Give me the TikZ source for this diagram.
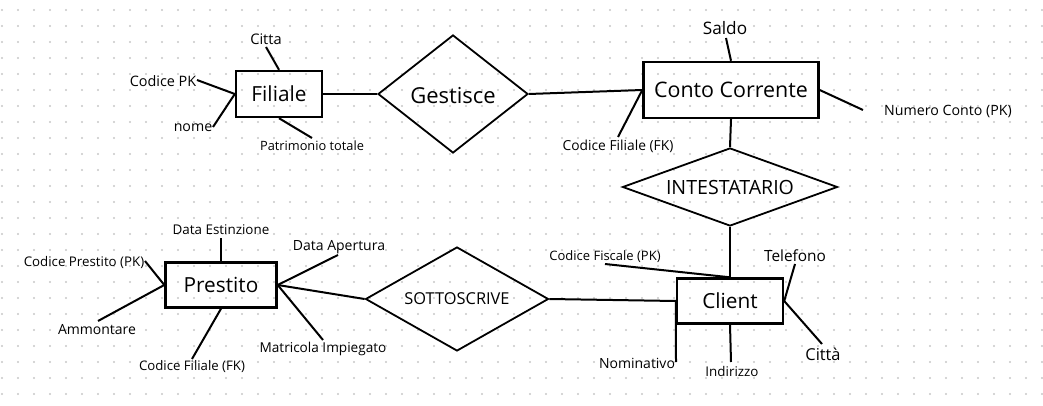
\documentclass[tikz,border=0pt]{standalone}
\usepackage{fontspec}
\setmainfont{Open Sans}
\usetikzlibrary{shapes.geometric}
\tikzset{
  entity/.style={draw, line width=1.2pt, rectangle, inner sep=0pt, font=\fontsize{10.4}{12}\selectfont},
  relation/.style={draw, line width=0.9pt, diamond, inner sep=0pt},
  attr/.style={inner sep=0pt, font=\fontsize{7}{9}\selectfont},
  link/.style={line width=1pt}
}

\begin{document}
\begin{tikzpicture}[x=0.5pt, y=-0.5pt]
\useasboundingbox (0,0) rectangle (1043,406);
%% dotted background
\foreach \i in {0,...,65}
  \foreach \j in {0,...,24}
    \fill[black!22] (2+16*\i, 10+16*\j) circle (0.55pt);

%% Filiale
  \node[entity, minimum width=43pt, minimum height=23pt] (filiale) at (279,94) {Filiale};
  \node[attr, font=\fontsize{7.3}{9}\selectfont] (citta) at (266,39) {Citta};
  \node[attr, font=\fontsize{7.2}{9}\selectfont] (codpk) at (163,81) {Codice PK};
  \node[attr, font=\fontsize{7.1}{9}\selectfont] (nome) at (193,128) {nome};
  \node[attr, font=\fontsize{6.4}{8}\selectfont] (patr) at (312,146) {Patrimonio totale};
  \coordinate (citta-e) at (266,47);
  \coordinate (codpk-e) at (197,80);
  \coordinate (nome-e) at (213,127);
  \coordinate (patr-e) at (312,138);
  \draw[link] (filiale.north) -- (citta-e);
  \draw[link] (filiale.west) -- (codpk-e);
  \draw[link] (filiale.west) -- (nome-e);
  \draw[link] (filiale.south) -- (patr-e);

%% Gestisce
  \node[relation, minimum width=75pt, minimum height=59pt] (gestisce) at (453,94) {};
  \node[font=\fontsize{11}{13}\selectfont] at (453,96) {Gestisce};
  \draw[link] (filiale.east) -- (gestisce.west);

%% Conto Corrente
  \node[entity, minimum width=87.5pt, minimum height=28pt, font=\fontsize{10.7}{13}\selectfont] (conto) at (731,90) {Conto Corrente};
  \node[attr, font=\fontsize{8.6}{10}\selectfont] (saldo) at (725,28) {Saldo};
  \node[attr, font=\fontsize{7.1}{9}\selectfont] (numconto) at (948,111) {Numero Conto (PK)};
  \node[attr, font=\fontsize{6.9}{8}\selectfont] (codfil) at (618,146) {Codice Filiale (FK)};
  \coordinate (saldo-e) at (726,38);
  \coordinate (numconto-e) at (863,110);
  \coordinate (codfil-e) at (618,137);
  \draw[link] (conto.north) -- (saldo-e);
  \draw[link] (conto.east) -- (numconto-e);
  \draw[link] (conto.west) -- (codfil-e);
  \draw[link] (gestisce.east) -- (conto.west);

%% INTESTATARIO
  \node[relation, minimum width=107.5pt, minimum height=39pt] (intest) at (730,187) {};
  \node[font=\fontsize{9.8}{11}\selectfont] at (730,187) {INTESTATARIO};
  \draw[link] (conto.south) -- (intest.north);

%% Client
  \node[entity, minimum width=53pt, minimum height=22.5pt] (client) at (730,301) {Client};
  \node[attr, font=\fontsize{6.5}{8}\selectfont] (codfisc) at (605,257) {Codice Fiscale (PK)};
  \node[attr, font=\fontsize{7.7}{9}\selectfont] (tel) at (795,256) {Telefono};
  \node[attr, font=\fontsize{8.2}{10}\selectfont] (cittac) at (823,354) {Città};
  \node[attr, font=\fontsize{6.7}{8}\selectfont] (indir) at (732,371) {Indirizzo};
  \node[attr] (nomin) at (637,363) {Nominativo};
  \coordinate (codfisc-e) at (605,264);
  \coordinate (tel-e) at (795,264);
  \coordinate (cittac-e) at (822,344);
  \coordinate (indir-e) at (731,362);
  \coordinate (nomin-e) at (676,362);
  \draw[link] (intest.south) -- (client.north);
  \draw[link] (client.north) -- (codfisc-e);
  \draw[link] (client.east) -- (tel-e);
  \draw[link] (client.east) -- (cittac-e);
  \draw[link] (client.south) -- (indir-e);
  \draw[link] (client.west) -- (nomin-e);

%% SOTTOSCRIVE
  \node[relation, minimum width=91.5pt, minimum height=52pt] (sottoscr) at (457,299) {};
  \node[font=\fontsize{8.2}{10}\selectfont] at (457,299) {SOTTOSCRIVE};
  \draw[link] (sottoscr.east) -- (client.west);

%% Prestito
  \node[entity, minimum width=55.5pt, minimum height=22.5pt] (prestito) at (221,285) {Prestito};
  \node[attr, font=\fontsize{6.7}{8}\selectfont] (dataest) at (221,230) {Data Estinzione};
  \node[attr, font=\fontsize{6.65}{8}\selectfont] (codprest) at (84,262) {Codice Prestito (PK)};
  \node[attr] (ammont) at (97,330) {Ammontare};
  \node[attr, font=\fontsize{6.6}{8}\selectfont] (codfilp) at (192,367) {Codice Filiale (FK)};
  \node[attr] (dataap) at (339,247) {Data Apertura};
  \node[attr, font=\fontsize{6.8}{8}\selectfont] (matr) at (323,349) {Matricola Impiegato};
  \coordinate (dataest-e) at (221,238);
  \coordinate (codprest-e) at (145,261);
  \coordinate (ammont-e) at (98,321);
  \coordinate (codfilp-e) at (192,359);
  \coordinate (dataap-e) at (338,255);
  \coordinate (matr-e) at (323,340);
  \draw[link] (prestito.north) -- (dataest-e);
  \draw[link] (prestito.west) -- (codprest-e);
  \draw[link] (prestito.west) -- (ammont-e);
  \draw[link] (prestito.south) -- (codfilp-e);
  \draw[link] (prestito.east) -- (dataap-e);
  \draw[link] (prestito.east) -- (matr-e);
  \draw[link] (prestito.east) -- (sottoscr.west);
\end{tikzpicture}
\end{document}
